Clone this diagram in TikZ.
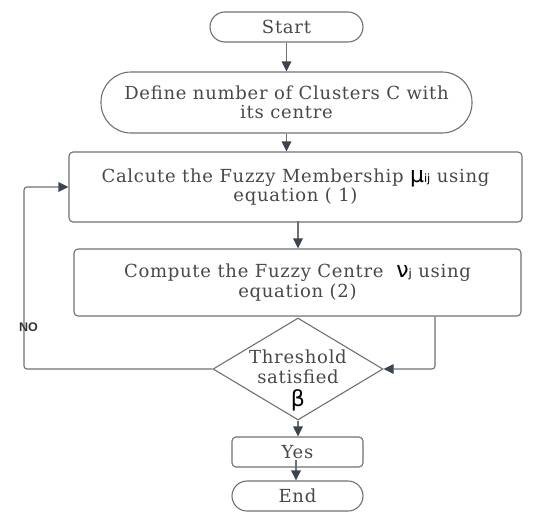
\documentclass[tikz,border=0pt]{standalone}
\usepackage{fontspec}
\setmainfont{DejaVu Serif}[LetterSpace=4]
\newfontfamily\greekfont{DejaVu Sans}
\newfontfamily\labelfont{Liberation Sans}
\usetikzlibrary{shapes.geometric,arrows.meta}
\definecolor{txtgray}{HTML}{484848}
\definecolor{linegray}{HTML}{707070}
\definecolor{tipgray}{HTML}{3C4452}
\tikzset{
  every node/.style={font=\fontsize{18}{19.5}\selectfont, text=txtgray, align=center},
  flowline/.style={draw=linegray, line width=1.1pt},
  arr/.style={flowline, -{Triangle[length=10pt,width=9.5pt,color=tipgray]}},
  terminal/.style={flowline, rounded corners=15pt, minimum height=30pt, inner sep=0pt},
  process/.style={flowline, rounded corners=4pt, inner sep=0pt},
  decision/.style={flowline, diamond, inner sep=0pt, minimum width=170pt, minimum height=102pt}
}
\newcommand{\gk}[1]{{\greekfont\color{black}\fontsize{22}{19}\selectfont #1}}
\newcommand{\gsub}[1]{{\greekfont\color{black}\fontsize{11.5}{11}\selectfont #1}}
\begin{document}
\begin{tikzpicture}[x=1pt,y=-1pt]
  \useasboundingbox (0,0) rectangle (533,514);
  % main flow
  \node[terminal, minimum width=153pt] (start) at (286.5,27) {Start};
  \node[flowline, rounded corners=30pt, minimum width=371pt, minimum height=61pt, inner sep=0pt] (define) at (286.5,102.5)
    {Define number of Clusters C with\\its centre};
  \node[process, minimum width=453pt, minimum height=70pt] (calc) at (295.5,187)
    {Calcute the Fuzzy Membership \gk{μ}\gsub{ij} using\\equation ( 1)};
  \node[process, minimum width=447pt, minimum height=67pt] (comp) at (297.5,282.5)
    {Compute the Fuzzy Centre \ \gk{ν}\gsub{j} using\\equation (2)};
  \node[decision] (dia) at (298,369) {};
  \node (diatext) at (298,367) {Threshold\\satisfied};
  \node[inner sep=0pt] (beta) at (298,400) {\gk{β}};
  \node[process, minimum width=131pt, minimum height=30pt] (yes) at (297.5,452) {Yes};
  \node[terminal, minimum width=131pt] (end) at (297.5,496) {End};
  % loop helpers
  \coordinate (rx) at (435,0);
  \coordinate (lx) at (24,187);
  \coordinate (yesin) at (296,460);
  % connectors
  \draw[arr] (start) -- (define);
  \draw[arr] (define.south) -- (define.south |- calc.north);
  \draw[arr] (comp.north -| 298,0) ++(0,-27) -- (comp.north -| 298,0);
  \draw[arr] (dia.south) -- (dia.south |- yes.north);
  \draw[arr] (yesin) -- (yesin |- end.north);
  \draw[arr, rounded corners=3pt] (comp.south -| rx) |- (dia.east);
  \draw[arr, rounded corners=3pt] (dia.west) -| (lx) -- (calc.west);
  \node[font=\labelfont\bfseries\fontsize{12.5}{12}\selectfont, text=black!80] (no) at (28.5,327) {NO};
\end{tikzpicture}
\end{document}
